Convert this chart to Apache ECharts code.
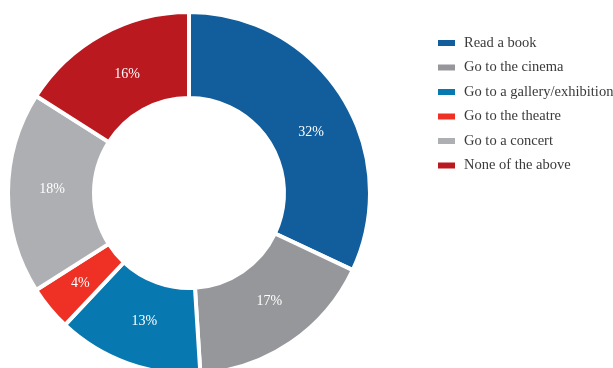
<!DOCTYPE html>
<html>
<head>
<meta charset="utf-8">
<script src="https://cdn.jsdelivr.net/npm/echarts@6/dist/echarts.min.js"></script>
<style>
  html, body { margin: 0; padding: 0; background: #ffffff; }
  #chart { width: 613px; height: 368px; }
</style>
</head>
<body>
<div id="chart"></div>
<script>
// Leisure activities, share of respondents (%)
const categories = [
  'Read a book',
  'Go to the cinema',
  'Go to a gallery/exhibition',
  'Go to the theatre',
  'Go to a concert',
  'None of the above'
];
const values = [32, 17, 13, 4, 18, 16];
const colors = ['#125e9c', '#96979b', '#0878b0', '#ee3124', '#aeafb3', '#bb1920'];

// Small nudges for a few in-slice labels (pixels)
const labelNudges = {
  'Read a book': [3, 15],
  'Go to the cinema': [1, -8],
  'Go to a gallery/exhibition': [3, -4],
  'Go to a concert': [4, -4],
  'None of the above': [6, 5]
};

const chart = echarts.init(document.getElementById('chart'), null, { renderer: 'canvas' });

chart.setOption({
  animation: false,
  color: colors,
  legend: {
    orient: 'vertical',
    left: 431,
    top: 30,
    itemWidth: 19,
    itemHeight: 8,
    itemGap: 8.5,
    icon: 'rect',
    textStyle: {
      fontFamily: 'Liberation Serif',
      fontSize: 14.5,
      color: '#3a3a3a',
      lineHeight: 16,
      padding: [0, 0, 0, 3]
    },
    data: categories
  },
  series: [{
    type: 'pie',
    center: [189, 193],
    radius: [95, 181],
    startAngle: 90,
    clockwise: true,
    avoidLabelOverlap: false,
    itemStyle: {
      borderColor: '#ffffff',
      borderWidth: 4
    },
    label: {
      show: true,
      position: 'inside',
      formatter: '{c}%',
      color: '#ffffff',
      fontFamily: 'Liberation Serif',
      fontSize: 14
    },
    labelLine: { show: false },
    emphasis: { disabled: true },
    data: categories.map((name, i) => ({
      name,
      value: values[i],
      label: labelNudges[name] ? { offset: labelNudges[name] } : undefined
    }))
  }]
});
</script>
</body>
</html>
